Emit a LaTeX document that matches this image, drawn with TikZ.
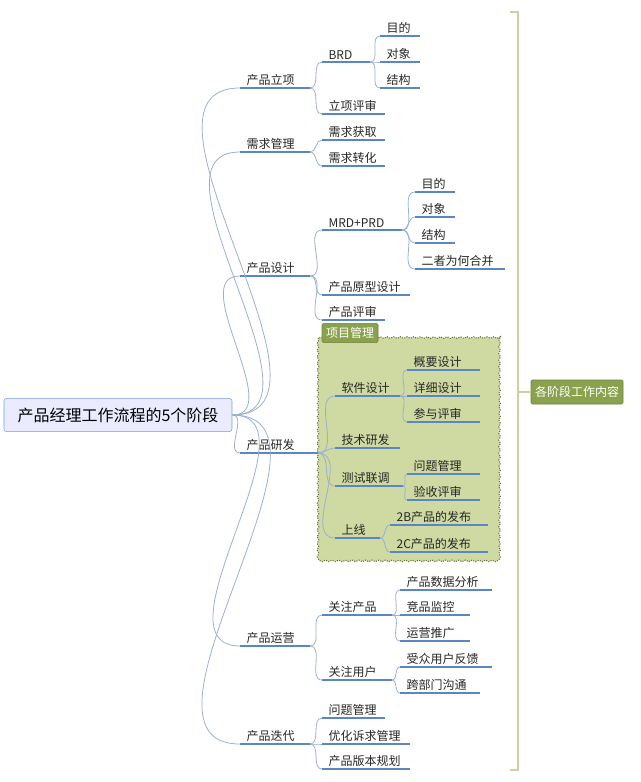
\documentclass[tikz,border=0pt]{standalone}
\usepackage{fontspec}
\setmainfont{Noto Sans CJK SC}
\usetikzlibrary{decorations.pathmorphing}
\definecolor{ul}{HTML}{5B86C4}
\definecolor{ln}{HTML}{9AB0D3}
\definecolor{gfill}{HTML}{CFD9A2}
\definecolor{gdark}{HTML}{8AA24E}
\definecolor{gline}{HTML}{C8D3A0}
\tikzset{
  txt/.style={font=\fontsize{9}{10}\selectfont, inner sep=1pt, anchor=south west, text=black!85},
  ulstyle/.style={draw=ul, line width=1.3pt},
  conn/.style={draw=ln, line width=0.6pt},
  tag/.style={fill=gdark, draw=gdark!80!black, text=white, font=\fontsize{9}{10}\selectfont\itshape, inner sep=3pt, rounded corners=1pt}
}
\newcommand\mitem[5]{%
  \coordinate (#1-l) at (#2,#4);
  \coordinate (#1-r) at (#3,#4);
  \node[txt] (#1-t) at (#2+5,#4-1) {#5};
  \draw[ulstyle] (#1-l) -- (#1-r);
}
\newcommand\conn[2]{\draw[conn] (#1-r) to[out=0,in=180] (#2-l);}
\begin{document}
\begin{tikzpicture}[x=0.75pt,y=-0.75pt]
\useasboundingbox (0,0) rectangle (640,782);
% green box
\draw[fill=gfill, draw=gdark!70!black, densely dotted, line width=0.8pt,
  decorate, decoration={snake, segment length=5pt, amplitude=0.6pt}]
  (318,338) rectangle (497,560);
\node[tag, minimum width=58\pgflinewidth] (pm) at (350,333) {项目管理};
% brace
\draw[gline, line width=2pt] (510,12) -- (518,12) -- (518,770) -- (510,770);
\coordinate (bm) at (518,392);
\node[tag, minimum height=18pt] (lab) at (577,392) {各阶段工作内容};
\draw[gline, line width=2pt] (bm) -- (lab.west);
% root
\node[draw=ul!80, fill=blue!8, rounded corners=2pt, font=\fontsize{12}{14}\selectfont, minimum width=171pt, minimum height=25pt] (root) at (118,415) {产品经理工作流程的5个阶段};
\coordinate (root-r) at (root.east);
% level 1
\mitem{a}{240}{310}{88}{产品立项}
\mitem{b}{240}{310}{152}{需求管理}
\mitem{c}{240}{310}{276}{产品设计}
\mitem{d}{240}{318}{453}{产品研发}
\mitem{e}{240}{310}{646}{产品运营}
\mitem{f}{240}{310}{744}{产品迭代}
\foreach \n in {a,b,c,d,e,f}{\draw[conn] (root-r) to[out=0,in=180] (\n-l);}
% 产品立项
\mitem{a1}{322}{370}{62}{BRD}
\mitem{a2}{322}{385}{114}{立项评审}
\conn{a}{a1}\conn{a}{a2}
\mitem{a11}{380}{420}{36}{目的}
\mitem{a12}{380}{420}{62}{对象}
\mitem{a13}{380}{420}{88}{结构}
\conn{a1}{a11}\conn{a1}{a12}\conn{a1}{a13}
% 需求管理
\mitem{b1}{322}{385}{140}{需求获取}
\mitem{b2}{322}{385}{166}{需求转化}
\conn{b}{b1}\conn{b}{b2}
% 产品设计
\mitem{c1}{322}{402}{230}{MRD+PRD}
\mitem{c2}{322}{410}{295}{产品原型设计}
\mitem{c3}{322}{385}{320}{产品评审}
\conn{c}{c1}\conn{c}{c2}\conn{c}{c3}
\mitem{c11}{415}{455}{192}{目的}
\mitem{c12}{415}{455}{217}{对象}
\mitem{c13}{415}{455}{243}{结构}
\mitem{c14}{415}{505}{269}{二者为何合并}
\conn{c1}{c11}\conn{c1}{c12}\conn{c1}{c13}\conn{c1}{c14}
% 产品研发
\mitem{d1}{335}{400}{396}{软件设计}
\mitem{d2}{335}{400}{448}{技术研发}
\mitem{d3}{335}{403}{486}{测试联调}
\mitem{d4}{335}{380}{538}{上线}
\conn{d}{d1}\conn{d}{d2}\conn{d}{d3}\conn{d}{d4}
\mitem{d11}{407}{480}{370}{概要设计}
\mitem{d12}{407}{480}{396}{详细设计}
\mitem{d13}{407}{480}{422}{参与评审}
\conn{d1}{d11}\conn{d1}{d12}\conn{d1}{d13}
\mitem{d31}{407}{480}{474}{问题管理}
\mitem{d32}{407}{480}{500}{验收评审}
\conn{d3}{d31}\conn{d3}{d32}
\mitem{d41}{390}{488}{525}{2B产品的发布}
\mitem{d42}{390}{488}{552}{2C产品的发布}
\conn{d4}{d41}\conn{d4}{d42}
% 产品运营
\mitem{e1}{322}{392}{615}{关注产品}
\mitem{e2}{322}{392}{680}{关注用户}
\conn{e}{e1}\conn{e}{e2}
\mitem{e11}{400}{492}{590}{产品数据分析}
\mitem{e12}{400}{470}{615}{竞品监控}
\mitem{e13}{400}{470}{641}{运营推广}
\conn{e1}{e11}\conn{e1}{e12}\conn{e1}{e13}
\mitem{e21}{400}{492}{667}{受众用户反馈}
\mitem{e22}{400}{480}{693}{跨部门沟通}
\conn{e2}{e21}\conn{e2}{e22}
% 产品迭代
\mitem{f1}{322}{385}{718}{问题管理}
\mitem{f2}{322}{410}{744}{优化诉求管理}
\mitem{f3}{322}{410}{769}{产品版本规划}
\conn{f}{f1}\conn{f}{f2}\conn{f}{f3}
\end{tikzpicture}
\end{document}
